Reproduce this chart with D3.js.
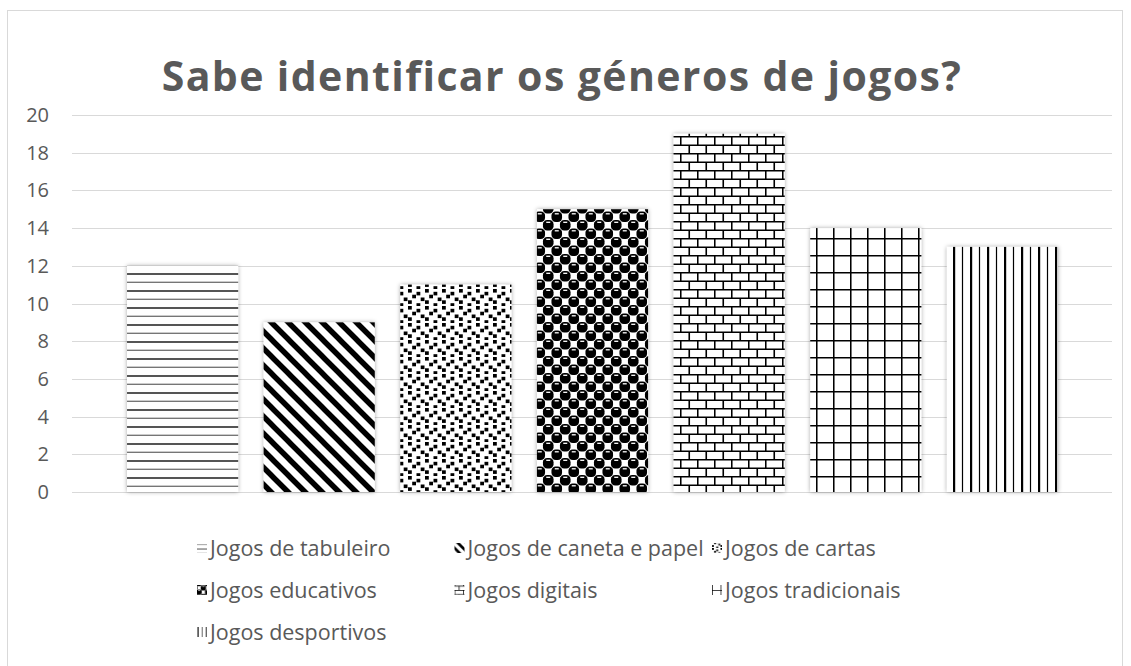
<!DOCTYPE html>
<html>
<head>
<meta charset="utf-8">
<script src="https://cdn.jsdelivr.net/npm/d3@7"></script>
<style>
  body { margin: 0; background: #fff; }
  svg text { font-family: "Open Sans", sans-serif; fill: #595959; }
</style>
</head>
<body>
<div id="graph"></div>
<script>
// datos del gráfico
const chartTitle = "Sabe identificar os géneros de jogos?";
const categories = ["Jogos de tabuleiro", "Jogos de caneta e papel", "Jogos de cartas",
  "Jogos educativos", "Jogos digitais", "Jogos tradicionais", "Jogos desportivos"];
const values = [12, 9, 11, 15, 19, 14, 13];
const yTicks = [0, 2, 4, 6, 8, 10, 12, 14, 16, 18, 20];
const patternIds = ["horz", "diag", "dots", "sphere", "brick", "grid", "vert"];

const width = 1131, height = 666;

let svg = d3.select("#graph").append("svg")
  .attr("width", width)
  .attr("height", height);

let defs = svg.append("defs");

// sombra suave de las barras
let filter = defs.append("filter").attr("id", "shadow")
  .attr("x", "-10%").attr("y", "-10%").attr("width", "120%").attr("height", "120%");
filter.append("feDropShadow")
  .attr("dx", 0).attr("dy", 0).attr("stdDeviation", 2)
  .attr("flood-color", "#000").attr("flood-opacity", 0.35);

// tramas (tile de 17px)
function makePatterns(suffix, s) {
  function pat(name) {
    let p = defs.append("pattern")
      .attr("id", name + suffix)
      .attr("patternUnits", "userSpaceOnUse")
      .attr("width", 17).attr("height", 17)
      .attr("patternTransform", `scale(${s})`);
    p.append("rect").attr("width", 17).attr("height", 17).attr("fill", "#fff");
    return p;
  }
  // horizontales
  let p = pat("horz");
  p.append("rect").attr("x", 0).attr("y", 1).attr("width", 17).attr("height", 2).attr("fill", "#555");
  p.append("rect").attr("x", 0).attr("y", 9.7).attr("width", 17).attr("height", 1.1).attr("fill", "#555");
  // diagonales
  p = pat("diag");
  p.append("path")
    .attr("d", "M-3,-3L20,20M14,-3L20,3M-3,14L3,20")
    .attr("stroke", "#000").attr("stroke-width", 5.5);
  // puntos
  p = pat("dots");
  [[0,0],[8.5,2.8],[4.2,5.7],[12.7,8.5],[0,11.3],[8.5,14.2]].forEach(c => {
    p.append("rect").attr("x", c[0]).attr("y", c[1]).attr("width", 3.8).attr("height", 3.6).attr("fill", "#000");
  });
  // esferas
  p = pat("sphere");
  [[4.25,4.25],[12.75,12.75],[-4.25,12.75],[21.25,4.25],[12.75,-4.25],[4.25,21.25],[21.25,21.25],[-4.25,-4.25]].forEach(c => {
    p.append("rect").attr("x", c[0] - 5.3).attr("y", c[1] - 5.3)
      .attr("width", 10.6).attr("height", 10.6).attr("rx", 4.2).attr("fill", "#000");
  });
  [[4.25,4.25],[12.75,12.75]].forEach(c => {
    p.append("rect").attr("x", c[0] - 2).attr("y", c[1] - 3.6).attr("width", 4).attr("height", 1.3).attr("fill", "#fff");
  });
  // ladrillos
  p = pat("brick");
  p.append("path")
    .attr("d", "M0,0.75H17M0,9.25H17M0.75,0V9.25M9.25,9.25V17")
    .attr("stroke", "#000").attr("stroke-width", 1.6).attr("fill", "none");
  // cuadrícula
  p = pat("grid");
  p.append("path")
    .attr("d", "M0,0.75H17M0.75,0V17")
    .attr("stroke", "#000").attr("stroke-width", 1.6).attr("fill", "none");
  // verticales
  p = pat("vert");
  p.append("rect").attr("x", 1).attr("y", 0).attr("width", 2.2).attr("height", 17).attr("fill", "#000");
  p.append("rect").attr("x", 9.9).attr("y", 0).attr("width", 1.2).attr("height", 17).attr("fill", "#000");
}
makePatterns("", 1);
makePatterns("-key", 0.5);

// borde del gráfico
svg.append("rect")
  .attr("x", 7.5).attr("y", 10.5)
  .attr("width", 1115).attr("height", 662)
  .attr("fill", "#fff").attr("stroke", "#d9d9d9");

// título
svg.append("text")
  .attr("x", 562).attr("y", 91)
  .attr("text-anchor", "middle")
  .style("font-size", "41px").style("font-weight", "bold")
  .style("letter-spacing", "1.4px")
  .text(chartTitle);

let xScale = d3.scaleBand()
  .domain(categories)
  .range([114.25, 1070.75])
  .paddingInner(0.187)
  .paddingOuter(0.0935);

let yScale = d3.scaleLinear()
  .domain([0, 20])
  .range([492, 115]);

// rejilla
svg.append("g")
  .selectAll("line")
  .data(yTicks)
  .join("line")
  .attr("x1", 72).attr("x2", 1112)
  .attr("y1", d => Math.round(yScale(d)) + 0.5)
  .attr("y2", d => Math.round(yScale(d)) + 0.5)
  .attr("stroke", "#d9d9d9").attr("stroke-width", 1);

// eje Y
svg.append("g")
  .selectAll("text")
  .data(yTicks)
  .join("text")
  .attr("x", 49).attr("y", d => yScale(d) + 7)
  .attr("text-anchor", "end")
  .style("font-size", "20px")
  .text(d => d);

// barras
svg.append("g")
  .selectAll("rect")
  .data(values)
  .join("rect")
  .attr("x", (d, i) => xScale(categories[i]))
  .attr("y", d => yScale(d))
  .attr("width", xScale.bandwidth())
  .attr("height", d => yScale(0) - yScale(d))
  .attr("fill", (d, i) => `url(#${patternIds[i]})`)
  .attr("filter", "url(#shadow)");

// leyenda
let legend = svg.append("g")
  .selectAll("g")
  .data(categories)
  .join("g")
  .attr("transform", (d, i) => `translate(${197 + (i % 3) * 257.5},${548 + Math.floor(i / 3) * 42})`);

legend.append("rect")
  .attr("x", 0).attr("y", -5)
  .attr("width", 10).attr("height", 10)
  .attr("fill", (d, i) => `url(#${patternIds[i]}-key)`);

legend.append("text")
  .attr("x", 13).attr("y", 7.5)
  .style("font-size", "21.5px")
  .text(d => d);
</script>
</body>
</html>
